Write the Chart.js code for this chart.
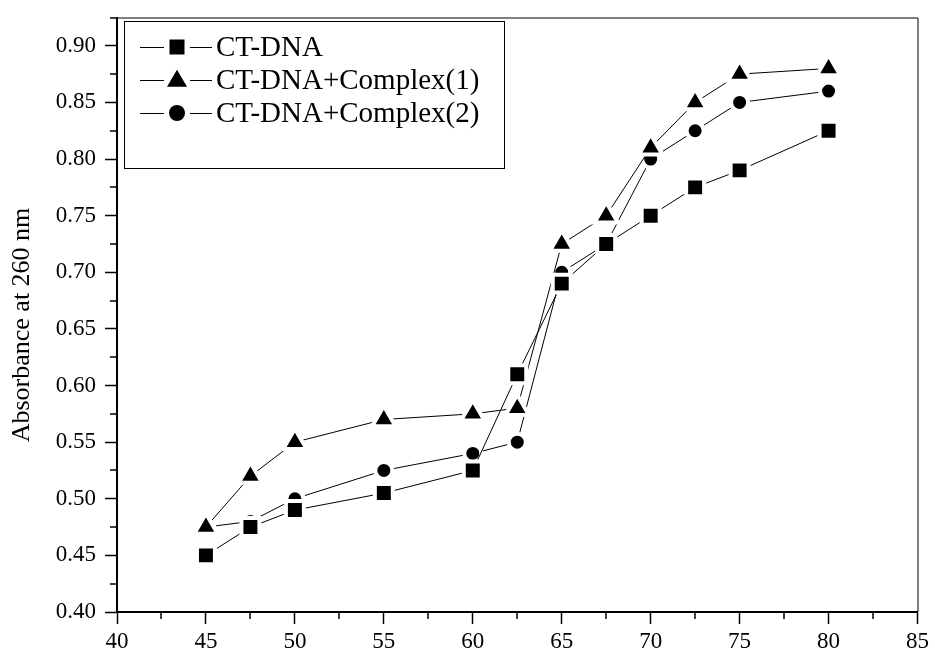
<!DOCTYPE html>
<html>
<head>
<meta charset="utf-8">
<script src="https://cdn.jsdelivr.net/npm/chart.js@4"></script>
<style>
  html, body { margin: 0; padding: 0; background: #fff; }
  #wrap { width: 935px; height: 650px; position: relative; }
</style>
</head>
<body>
<div id="wrap"><canvas id="c" width="935" height="650"></canvas></div>
<script>
const temperatures = [45, 47.5, 50, 55, 60, 62.5, 65, 67.5, 70, 72.5, 75, 80];
const ctDNA    = [0.450, 0.475, 0.490, 0.505, 0.525, 0.610, 0.690, 0.725, 0.750, 0.775, 0.790, 0.825];
const complex1 = [0.475, 0.520, 0.550, 0.570, 0.575, 0.580, 0.725, 0.750, 0.810, 0.850, 0.875, 0.880];
const complex2 = [0.475, 0.480, 0.500, 0.525, 0.540, 0.550, 0.700, 0.725, 0.800, 0.825, 0.850, 0.860];
const seriesNames = ['CT-DNA', 'CT-DNA+Complex(1)', 'CT-DNA+Complex(2)'];
const yTitle = 'Absorbance at 260 nm';
const xMinorTicks = [42.5, 47.5, 52.5, 57.5, 62.5, 67.5, 72.5, 77.5, 82.5];
const yMinorTicks = [0.425, 0.475, 0.525, 0.575, 0.625, 0.675, 0.725, 0.775, 0.825, 0.875, 0.925];

const FONT = '"Liberation Serif", "DejaVu Serif", serif';

function pts(ys) { return temperatures.map((t, i) => ({ x: t, y: ys[i] })); }

function ds(label, ys, style, radius) {
  return {
    label: label,
    data: pts(ys),
    showLine: true,
    borderColor: '#000',
    borderWidth: 1,
    backgroundColor: '#000',
    pointStyle: style,
    pointRadius: radius,
    pointHoverRadius: radius,
    pointBackgroundColor: '#000',
    pointBorderColor: '#fff',
    pointBorderWidth: 4,
    tension: 0
  };
}

const frameAndMinor = {
  id: 'frameAndMinor',
  afterDraw(chart) {
    const ctx = chart.ctx;
    const a = chart.chartArea;
    const xs = chart.scales.x, ys = chart.scales.y;
    ctx.save();
    ctx.strokeStyle = '#000';
    // top and right frame
    ctx.lineWidth = 1;
    ctx.beginPath();
    ctx.moveTo(a.left, a.top + 0.5);
    ctx.lineTo(a.right + 0.5, a.top + 0.5);
    ctx.lineTo(a.right + 0.5, a.bottom);
    ctx.stroke();
    // minor ticks
    ctx.lineWidth = 1.5;
    ctx.beginPath();
    xMinorTicks.forEach(v => {
      const px = Math.round(xs.getPixelForValue(v));
      ctx.moveTo(px, a.bottom);
      ctx.lineTo(px, a.bottom + 7);
    });
    yMinorTicks.forEach(v => {
      const py = Math.round(ys.getPixelForValue(v));
      ctx.moveTo(a.left, py);
      ctx.lineTo(a.left - 7, py);
    });
    ctx.stroke();

    // y axis title
    ctx.fillStyle = '#000';
    ctx.font = '26px ' + FONT;
    ctx.textAlign = 'center';
    ctx.textBaseline = 'middle';
    ctx.translate(22, 325);
    ctx.rotate(-Math.PI / 2);
    ctx.fillText(yTitle, 0, 0);
    ctx.restore();

    // legend
    ctx.save();
    ctx.fillStyle = '#fff';
    ctx.fillRect(124, 21, 380, 147);
    ctx.strokeStyle = '#000';
    ctx.lineWidth = 1;
    ctx.strokeRect(124.5, 21.5, 380, 147);
    const rows = [47, 80, 113];
    const styles = ['rect', 'triangle', 'circle'];
    rows.forEach((y, i) => {
      ctx.strokeStyle = '#000';
      ctx.lineWidth = 1;
      ctx.beginPath();
      ctx.moveTo(140, y + 0.5); ctx.lineTo(164, y + 0.5);
      ctx.moveTo(190, y + 0.5); ctx.lineTo(212, y + 0.5);
      ctx.stroke();
      ctx.fillStyle = '#000';
      ctx.beginPath();
      const cx = 177;
      if (styles[i] === 'rect') {
        ctx.rect(cx - 7.5, y - 7.5, 15, 15);
      } else if (styles[i] === 'triangle') {
        const s = 20, h = 17;
        ctx.moveTo(cx, y - h * 0.6);
        ctx.lineTo(cx + s / 2, y + h * 0.4);
        ctx.lineTo(cx - s / 2, y + h * 0.4);
        ctx.closePath();
      } else {
        ctx.arc(cx, y, 8, 0, Math.PI * 2);
      }
      ctx.fill();
      ctx.font = '29px ' + FONT;
      ctx.textAlign = 'left';
      ctx.textBaseline = 'middle';
      ctx.fillText(seriesNames[i], 216, y + 1);
    });
    ctx.restore();
  }
};

new Chart(document.getElementById('c'), {
  type: 'scatter',
  data: {
    datasets: [
      ds(seriesNames[0], ctDNA, 'rect', 12.7),
      ds(seriesNames[1], complex1, 'triangle', 13.5),
      ds(seriesNames[2], complex2, 'circle', 8.5)
    ]
  },
  options: {
    responsive: false,
    animation: false,
    events: [],
    layout: { padding: { left: 0, top: 15, right: 15, bottom: 0 } },
    plugins: { legend: { display: false }, tooltip: { enabled: false }, title: { display: false } },
    scales: {
      x: {
        type: 'linear',
        min: 40, max: 85,
        afterFit(scale) { scale.height = 38; scale.paddingLeft = 0; scale.paddingRight = 0; },
        ticks: {
          stepSize: 5,
          includeBounds: false,
          color: '#000',
          padding: 4,
          maxRotation: 0,
          font: { family: FONT, size: 23 },
          callback: v => String(v)
        },
        grid: { drawOnChartArea: false, drawTicks: true, tickLength: 12, tickColor: '#000', tickWidth: 1.5 },
        border: { color: '#000', width: 2 }
      },
      y: {
        type: 'linear',
        min: 0.40, max: 0.925,
        afterFit(scale) { scale.width = 117; scale.paddingTop = 0; scale.paddingBottom = 0; },
        ticks: {
          stepSize: 0.05,
          includeBounds: false,
          color: '#000',
          padding: 9,
          font: { family: FONT, size: 23 },
          callback: v => Number(v).toFixed(2)
        },
        grid: { drawOnChartArea: false, drawTicks: true, tickLength: 12, tickColor: '#000', tickWidth: 1.5 },
        border: { color: '#000', width: 2 }
      }
    }
  },
  plugins: [frameAndMinor]
});
</script>
</body>
</html>
